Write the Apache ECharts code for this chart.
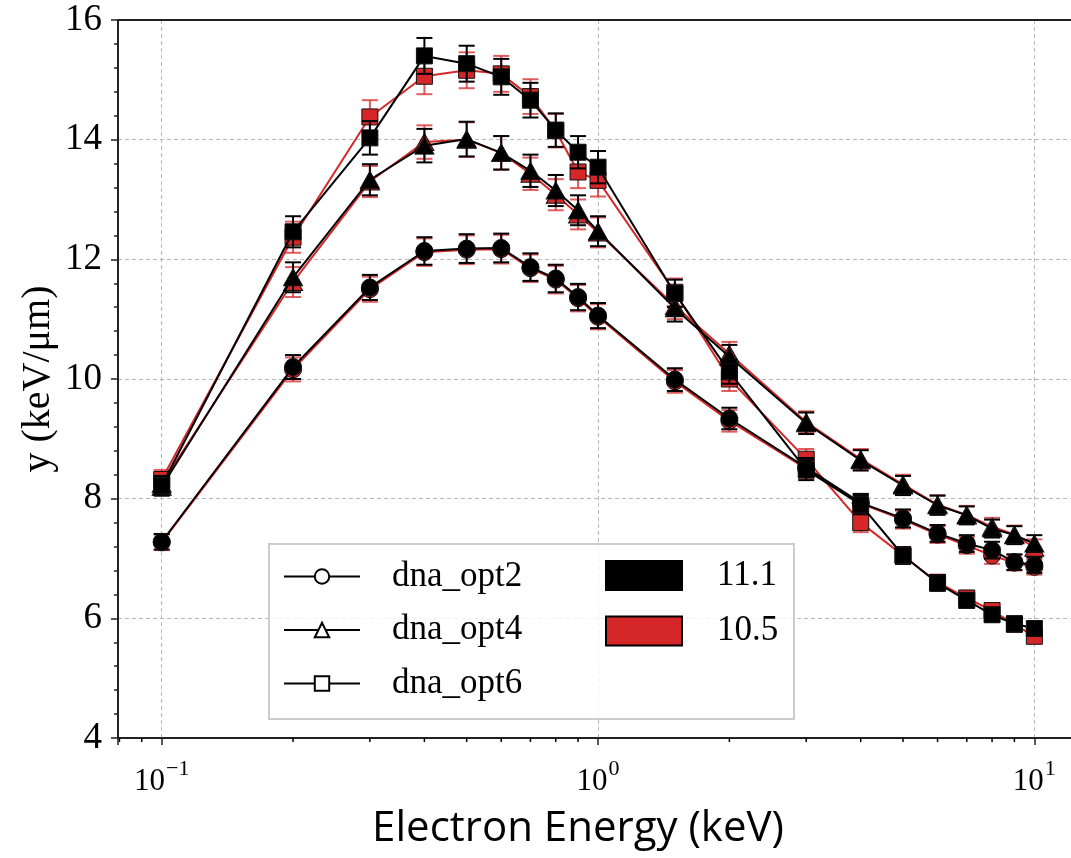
<!DOCTYPE html>
<html>
<head>
<meta charset="utf-8">
<script src="https://cdn.jsdelivr.net/npm/echarts@6/dist/echarts.min.js"></script>
<style>
html,body{margin:0;padding:0;background:#fff;}
#chart{width:1071px;height:858px;}
</style>
</head>
<body>
<div id="chart"></div>
<script>
// ---- data ----
const energies = [0.1, 0.2, 0.3, 0.4, 0.5, 0.6, 0.7, 0.8, 0.9, 1.0, 1.5, 2, 3, 4, 5, 6, 7, 8, 9, 10];

const opt2_v111 = [7.28, 10.20, 11.53, 12.14, 12.18, 12.19, 11.87, 11.68, 11.37, 11.06, 9.99, 9.34, 8.52, 7.93, 7.67, 7.42, 7.25, 7.14, 6.94, 6.89];
const opt2_v105 = [7.27, 10.16, 11.50, 12.12, 12.16, 12.17, 11.85, 11.66, 11.35, 11.04, 9.96, 9.30, 8.50, 7.92, 7.65, 7.40, 7.22, 7.05, 6.93, 6.86];
const opt4_v111 = [8.20, 11.70, 13.33, 13.90, 14.01, 13.78, 13.48, 13.15, 12.82, 12.47, 11.18, 10.37, 9.26, 8.64, 8.22, 7.89, 7.72, 7.50, 7.39, 7.25];
const opt4_v105 = [8.25, 11.62, 13.30, 13.96, 14.00, 13.78, 13.43, 13.08, 12.75, 12.45, 11.22, 10.42, 9.28, 8.66, 8.24, 7.90, 7.73, 7.53, 7.40, 7.18];
const opt6_v111 = [8.22, 12.46, 14.03, 15.40, 15.27, 15.05, 14.66, 14.16, 13.79, 13.54, 11.43, 10.12, 8.48, 7.90, 7.05, 6.59, 6.30, 6.06, 5.91, 5.83];
const opt6_v105 = [8.32, 12.37, 14.38, 15.06, 15.16, 15.10, 14.72, 14.15, 13.46, 13.32, 11.45, 10.00, 8.66, 7.60, 7.05, 6.60, 6.34, 6.13, 5.90, 5.70];

const opt2_err = [0.13, 0.20, 0.21, 0.23, 0.24, 0.24, 0.23, 0.23, 0.22, 0.21, 0.19, 0.18, 0.16, 0.15, 0.15, 0.14, 0.14, 0.14, 0.13, 0.13];
const opt4_err = [0.15, 0.25, 0.26, 0.28, 0.29, 0.28, 0.27, 0.26, 0.25, 0.25, 0.22, 0.20, 0.18, 0.17, 0.16, 0.16, 0.15, 0.15, 0.15, 0.14];
const opt6_err = [0.16, 0.26, 0.28, 0.30, 0.30, 0.30, 0.29, 0.28, 0.27, 0.27, 0.23, 0.20, 0.17, 0.16, 0.14, 0.13, 0.12, 0.12, 0.12, 0.11];

const optionNames = ['dna_opt2', 'dna_opt4', 'dna_opt6'];
const versionNames = ['11.1', '10.5'];
const xMinorTicks = [0.08, 0.09, 0.2, 0.3, 0.4, 0.5, 0.6, 0.7, 0.8, 0.9, 2, 3, 4, 5, 6, 7, 8, 9];
const X_MIN = 0.0794, X_MAX = 12.59;
const Y_MIN = 4, Y_MAX = 16, Y_STEP = 2;

// ---- style ----
const BLACK = '#000000';
const RED = '#d62728';
const SERIF = '"Liberation Serif", "Times New Roman", serif';

const chart = echarts.init(document.getElementById('chart'), null, {renderer: 'canvas'});

function pairs(ys) { return energies.map((x, i) => [x, ys[i]]); }
function errData(ys, es) { return energies.map((x, i) => [x, ys[i] - es[i], ys[i] + es[i]]); }

function errSeries(name, ys, es, color, z) {
  return {
    name: name + ' err', type: 'custom', z: z, silent: true,
    data: errData(ys, es),
    encode: {x: 0, y: [1, 2]},
    renderItem: function (params, api) {
      const x = api.value(0);
      const lo = api.coord([x, api.value(1)]);
      const hi = api.coord([x, api.value(2)]);
      const w = 8;
      const st = {stroke: color, lineWidth: 2};
      return {type: 'group', children: [
        {type: 'line', shape: {x1: lo[0], y1: lo[1], x2: hi[0], y2: hi[1]}, style: st},
        {type: 'line', shape: {x1: lo[0] - w, y1: lo[1], x2: lo[0] + w, y2: lo[1]}, style: st},
        {type: 'line', shape: {x1: hi[0] - w, y1: hi[1], x2: hi[0] + w, y2: hi[1]}, style: st}
      ]};
    }
  };
}

function lineSeries(name, ys, symbol, size, color, z) {
  return {
    name: name, type: 'line', z: z, data: pairs(ys),
    symbol: symbol, symbolSize: size, showAllSymbol: true,
    itemStyle: {color: color, borderColor: '#111', borderWidth: 1},
    lineStyle: {color: color, width: 2},
    emphasis: {disabled: true}, animation: false
  };
}

const symbols = {dna_opt2: ['circle', 17], dna_opt4: ['triangle', [19, 17]], dna_opt6: ['rect', 16]};
const dataSets = [
  ['dna_opt2', opt2_v111, opt2_v105, opt2_err],
  ['dna_opt4', opt4_v111, opt4_v105, opt4_err],
  ['dna_opt6', opt6_v111, opt6_v105, opt6_err]
];

const series = [];
// red (10.5) first, underneath
dataSets.forEach(d => {
  series.push(errSeries(d[0] + ' 10.5', d[2], d[3], 'rgba(214,39,40,0.75)', 2));
  series.push(lineSeries(d[0] + ' 10.5', d[2], symbols[d[0]][0], symbols[d[0]][1], RED, 3));
});
dataSets.forEach(d => {
  series.push(errSeries(d[0] + ' 11.1', d[1], d[3], BLACK, 4));
  series.push(lineSeries(d[0] + ' 11.1', d[1], symbols[d[0]][0], symbols[d[0]][1], BLACK, 5));
});
// minor ticks on the log x axis (matplotlib-style 2..9 subdivisions)
series.push({
  name: 'xminor', type: 'custom', silent: true, z: 10,
  data: xMinorTicks.map(v => [v, Y_MIN]),
  encode: {x: 0, y: 1},
  renderItem: function (params, api) {
    const p = api.coord([api.value(0), api.value(1)]);
    return {type: 'line', shape: {x1: p[0], y1: p[1], x2: p[0], y2: p[1] + 4}, style: {stroke: BLACK, lineWidth: 1.5}};
  }
});
// legend dummies
optionNames.forEach(n => {
  series.push({name: n, type: 'line', data: [], symbol: symbols[n][0],
    itemStyle: {color: '#fff', borderColor: BLACK, borderWidth: 1.5},
    lineStyle: {color: BLACK, width: 2}});
});
series.push({name: '11.1', type: 'line', data: [], itemStyle: {color: BLACK}, lineStyle: {color: BLACK}});
series.push({name: '10.5', type: 'line', data: [], itemStyle: {color: RED}, lineStyle: {color: RED}});

function logLabel(v) {
  const e = Math.round(Math.log10(v));
  if (Math.abs(Math.log10(v) - e) > 1e-6) return '';
  const s = e < 0 ? '\u2212' + (-e) : String(e);
  return '{b|10}{s|' + s + '}';
}

const gridLine = {show: true, showMinLine: false, showMaxLine: false, lineStyle: {color: '#b8b8b8', width: 1, type: [4, 3]}};

const option = {
  animation: false,
  backgroundColor: '#fff',
  grid: {left: 118, top: 20, width: 960, height: 718, containLabel: false, outerBoundsMode: 'none',
    show: false},
  xAxis: [{
    type: 'log', logBase: 10, min: X_MIN, max: X_MAX,
    name: 'Electron Energy (keV)', nameLocation: 'middle', nameGap: 70, nameMoveOverlap: false,
    nameTextStyle: {fontFamily: '"Open Sans", "Liberation Sans", sans-serif', fontSize: 42, color: '#000', padding: [0, 40, 0, 0]},
    axisLine: {show: true, lineStyle: {color: '#222', width: 2}},
    axisTick: {show: true, length: 7, lineStyle: {color: '#222', width: 1.5}},
    axisLabel: {
      formatter: logLabel, margin: 20, color: '#000',
      rich: {
        b: {fontFamily: SERIF, fontSize: 31, color: '#000', verticalAlign: 'bottom'},
        s: {fontFamily: SERIF, fontSize: 22, color: '#000', verticalAlign: 'bottom', padding: [0, 0, 17, 1]}
      }
    },
    splitLine: gridLine,
    minorTick: {show: false}
  }, {
    type: 'log', logBase: 10, min: X_MIN, max: X_MAX, position: 'top',
    axisLine: {show: true, onZero: false, lineStyle: {color: '#222', width: 2}},
    axisTick: {show: false}, axisLabel: {show: false}, splitLine: {show: false}
  }],
  yAxis: {
    type: 'value', min: Y_MIN, max: Y_MAX, interval: Y_STEP,
    name: 'y (keV/\u03bcm)', nameLocation: 'middle', nameGap: 60, nameMoveOverlap: false,
    nameTextStyle: {fontFamily: SERIF, fontSize: 40, color: '#000'},
    axisLine: {show: true, lineStyle: {color: '#222', width: 2}},
    axisTick: {show: true, length: 7, lineStyle: {color: '#222', width: 1.5}},
    minorTick: {show: true, splitNumber: 5, length: 4, lineStyle: {color: '#222', width: 1.5}},
    axisLabel: {fontFamily: SERIF, fontSize: 37, color: '#000', margin: 16},
    splitLine: gridLine
  },
  legend: [
    {
      data: optionNames, orient: 'vertical', left: 278, top: 554, z: 20,
      itemWidth: 76, itemHeight: 18, itemGap: 18.5, selectedMode: false,
      textStyle: {fontFamily: SERIF, fontSize: 35, color: '#000', padding: [0, 0, 0, 27]}
    },
    {
      data: versionNames, orient: 'vertical', left: 600, top: 553, z: 20,
      icon: 'rect', itemWidth: 76, itemHeight: 29, itemGap: 20.5, selectedMode: false,
      itemStyle: {borderColor: BLACK, borderWidth: 2},
      textStyle: {fontFamily: SERIF, fontSize: 35, color: '#000', padding: [0, 0, 0, 30]}
    }
  ],
  graphic: [{
    type: 'rect', left: 268, top: 543, z: 15, silent: true,
    shape: {width: 525, height: 175},
    style: {fill: 'rgba(255,255,255,0.8)', stroke: '#cccccc', lineWidth: 2}
  }],
  series: series
};
chart.setOption(option);
</script>
</body>
</html>
